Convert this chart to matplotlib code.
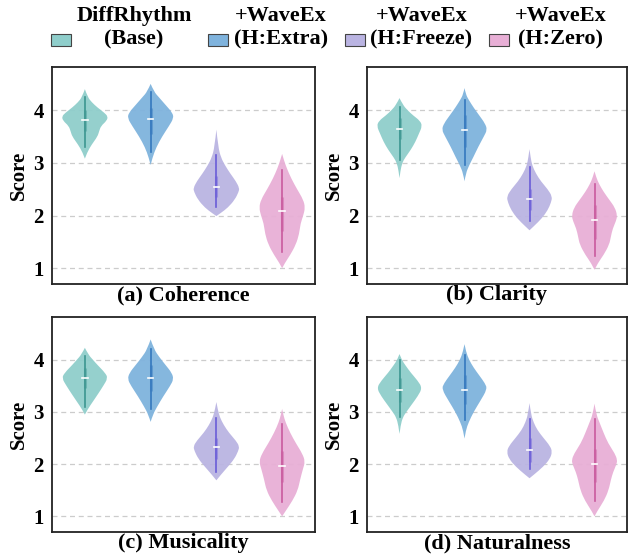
import numpy as np
import matplotlib
matplotlib.use("Agg")
import matplotlib.pyplot as plt
from matplotlib.path import Path
from matplotlib.patches import PathPatch, Patch, Rectangle
from matplotlib.legend_handler import HandlerPatch

plt.rcParams['font.family'] = ['Liberation Serif', 'DejaVu Serif']
plt.rcParams['font.weight'] = 'bold'

methods = ["DiffRhythm\n(Base)", "+WaveEx\n(H:Extra)", "+WaveEx\n(H:Freeze)", "+WaveEx\n(H:Zero)"]
panels = ["(a) Coherence", "(b) Clarity", "(c) Musicality", "(d) Naturalness"]

fill_colors = ["#8FCECB", "#7FB3DD", "#BAB4E2", "#E8AFD6"]
line_colors = ["#3C9690", "#3478BE", "#6A5CD8", "#C95A9E"]

# density profiles: score levels and relative density
coh_y = [
    [3.08, 3.2, 3.35, 3.5, 3.6, 3.7, 3.8, 3.88, 3.95, 4.05, 4.15, 4.25, 4.4],
    [2.96, 3.1, 3.3, 3.5, 3.7, 3.85, 3.95, 4.1, 4.25, 4.35, 4.5],
    [1.99, 2.05, 2.15, 2.3, 2.45, 2.52, 2.65, 2.8, 2.95, 3.1, 3.3, 3.63],
    [1.0, 1.1, 1.25, 1.45, 1.65, 1.85, 2.0, 2.15, 2.3, 2.5, 2.7, 2.9, 3.05, 3.17],
]
coh_d = [
    [0, 0.1, 0.3, 0.55, 0.62, 0.7, 0.95, 1.0, 0.85, 0.55, 0.3, 0.12, 0],
    [0, 0.08, 0.25, 0.5, 0.8, 1.0, 0.95, 0.65, 0.35, 0.15, 0],
    [0, 0.2, 0.5, 0.8, 0.97, 1.0, 0.85, 0.6, 0.38, 0.2, 0.08, 0],
    [0, 0.12, 0.35, 0.6, 0.74, 0.8, 0.92, 1.0, 0.92, 0.65, 0.4, 0.2, 0.08, 0],
]
cla_y = [
    [2.71, 2.85, 3.0, 3.1, 3.25, 3.4, 3.55, 3.7, 3.8, 3.9, 4.0, 4.1, 4.23],
    [2.65, 2.8, 2.95, 3.1, 3.3, 3.5, 3.63, 3.75, 3.9, 4.05, 4.2, 4.3, 4.42],
    [1.72, 1.8, 1.95, 2.1, 2.25, 2.36, 2.5, 2.65, 2.8, 2.95, 3.1, 3.26],
    [0.97, 1.1, 1.25, 1.45, 1.6, 1.75, 1.9, 2.0, 2.15, 2.3, 2.45, 2.6, 2.72, 2.84],
]
cla_d = [
    [0, 0.04, 0.12, 0.25, 0.5, 0.7, 0.85, 1.0, 0.9, 0.6, 0.35, 0.15, 0],
    [0, 0.06, 0.2, 0.38, 0.6, 0.85, 1.0, 0.9, 0.65, 0.4, 0.18, 0.06, 0],
    [0, 0.2, 0.55, 0.8, 0.95, 1.0, 0.8, 0.5, 0.28, 0.12, 0.05, 0],
    [0, 0.15, 0.4, 0.65, 0.72, 0.8, 0.95, 1.0, 0.9, 0.65, 0.4, 0.2, 0.08, 0],
]
mus_y = [
    [2.95, 3.05, 3.2, 3.35, 3.5, 3.65, 3.75, 3.9, 4.0, 4.1, 4.23],
    [2.81, 2.95, 3.1, 3.3, 3.5, 3.63, 3.75, 3.9, 4.05, 4.2, 4.39],
    [1.69, 1.8, 1.95, 2.1, 2.25, 2.34, 2.45, 2.6, 2.75, 2.9, 3.05, 3.19],
    [1.0, 1.1, 1.3, 1.5, 1.7, 1.9, 2.05, 2.2, 2.4, 2.6, 2.8, 2.95, 3.06],
]
mus_d = [
    [0, 0.12, 0.35, 0.58, 0.8, 1.0, 0.88, 0.55, 0.35, 0.15, 0],
    [0, 0.1, 0.28, 0.55, 0.85, 1.0, 0.92, 0.65, 0.38, 0.15, 0],
    [0, 0.2, 0.5, 0.78, 0.95, 1.0, 0.85, 0.55, 0.32, 0.15, 0.06, 0],
    [0, 0.15, 0.45, 0.68, 0.78, 0.9, 1.0, 0.88, 0.6, 0.35, 0.15, 0.05, 0],
]
nat_y = [
    [2.58, 2.75, 2.9, 3.0, 3.15, 3.3, 3.46, 3.6, 3.75, 3.9, 4.0, 4.11],
    [2.49, 2.65, 2.8, 3.0, 3.2, 3.44, 3.55, 3.7, 3.85, 4.0, 4.15, 4.30],
    [1.73, 1.8, 1.95, 2.1, 2.24, 2.35, 2.5, 2.65, 2.8, 2.95, 3.17],
    [1.0, 1.1, 1.3, 1.5, 1.7, 1.85, 2.0, 2.08, 2.2, 2.4, 2.6, 2.8, 2.95, 3.16],
]
nat_d = [
    [0, 0.05, 0.15, 0.3, 0.55, 0.8, 1.0, 0.8, 0.5, 0.25, 0.1, 0],
    [0, 0.06, 0.18, 0.4, 0.68, 1.0, 0.9, 0.65, 0.4, 0.2, 0.07, 0],
    [0, 0.2, 0.6, 0.9, 1.0, 0.9, 0.62, 0.35, 0.18, 0.07, 0],
    [0, 0.12, 0.42, 0.62, 0.72, 0.82, 0.97, 1.0, 0.9, 0.6, 0.4, 0.22, 0.08, 0],
]

# whisker range, box range and median per method
coh_whisk = [(3.3, 4.25), (3.2, 4.35), (2.17, 3.15), (1.3, 2.87)]
coh_box = [(3.6, 4.0), (3.55, 4.05), (2.35, 2.75), (1.7, 2.35)]
coh_med = [3.82, 3.84, 2.55, 2.08]
cla_whisk = [(3.06, 4.07), (2.95, 4.2), (1.9, 2.92), (1.23, 2.6)]
cla_box = [(3.45, 3.85), (3.3, 3.9), (2.1, 2.5), (1.55, 2.2)]
cla_med = [3.65, 3.63, 2.32, 1.91]
mus_whisk = [(3.1, 4.08), (3.05, 4.2), (1.85, 2.88), (1.28, 2.77)]
mus_box = [(3.45, 3.85), (3.4, 3.9), (2.1, 2.5), (1.65, 2.25)]
mus_med = [3.65, 3.65, 2.32, 1.96]
nat_whisk = [(2.9, 4.0), (2.85, 4.1), (1.9, 2.87), (1.3, 2.87)]
nat_box = [(3.2, 3.65), (3.15, 3.7), (2.05, 2.5), (1.65, 2.3)]
nat_med = [3.43, 3.43, 2.28, 2.0]

all_y = [coh_y, cla_y, mus_y, nat_y]
all_d = [coh_d, cla_d, mus_d, nat_d]
all_whisk = [coh_whisk, cla_whisk, mus_whisk, nat_whisk]
all_box = [coh_box, cla_box, mus_box, nat_box]
all_med = [coh_med, cla_med, mus_med, nat_med]


def smooth_side(pts):
    # quadratic bezier through midpoints, ends stay on the tips
    verts = [pts[0]]
    codes = []
    for i in range(1, len(pts) - 1):
        end = pts[i + 1] if i == len(pts) - 2 else ((pts[i][0] + pts[i + 1][0]) / 2, (pts[i][1] + pts[i + 1][1]) / 2)
        verts += [pts[i], end]
        codes += [Path.CURVE3, Path.CURVE3]
    return verts, codes


def draw_violin(ax, pos, ys, ds, color, half=0.35):
    right = [(pos + d * half, y) for y, d in zip(ys, ds)]
    left = [(pos - d * half, y) for y, d in zip(ys[::-1], ds[::-1])]
    v1, c1 = smooth_side(right)
    v2, c2 = smooth_side(left)
    verts = v1 + v2[1:]
    codes = [Path.MOVETO] + c1 + c2
    ax.add_patch(PathPatch(Path(verts, codes), facecolor=color, edgecolor='none', alpha=0.95, zorder=2))


def low_box(legend, orig_handle, xdescent, ydescent, width, height, fontsize):
    # put the legend box next to the second text line
    return Rectangle((-xdescent, -ydescent - 0.55 * fontsize), width, height)


W, H = 628, 557
fig = plt.figure(figsize=(W / 100, H / 100), dpi=100)
rects = [
    [52 / W, 1 - 284 / H, 263 / W, 217 / H],
    [367 / W, 1 - 284 / H, 260 / W, 217 / H],
    [52 / W, 1 - 532 / H, 263 / W, 215 / H],
    [367 / W, 1 - 532 / H, 260 / W, 215 / H],
]

for k, rect in enumerate(rects):
    ax = fig.add_axes(rect)
    for i in range(4):
        draw_violin(ax, i, all_y[k][i], all_d[k][i], fill_colors[i])
        lo, hi = all_whisk[k][i]
        ax.plot([i, i], [lo, hi], color=line_colors[i], lw=1.2, zorder=3)
        b0, b1 = all_box[k][i]
        ax.plot([i, i], [b0, b1], color=line_colors[i], lw=2.2, alpha=0.45, zorder=3, solid_capstyle='butt')
        ax.plot([i - 0.04, i + 0.04], [all_med[k][i]] * 2, color='white', lw=1.2, zorder=4)
    ax.set_xlim(-0.5, 3.5)
    ax.set_ylim(0.7, 4.82)
    ax.set_xticks([])
    ax.set_yticks([1, 2, 3, 4])
    ax.tick_params(axis='y', length=0, labelsize=15, pad=6)
    for lab in ax.get_yticklabels():
        lab.set_fontweight('bold')
    ax.yaxis.grid(True, linestyle=(0, (4, 3)), color='#cccccc', lw=0.9, zorder=0)
    ax.set_axisbelow(True)
    for sp in ax.spines.values():
        sp.set_linewidth(1.3)
        sp.set_color('#222222')
    ax.set_ylabel("Score", fontsize=15, fontweight='bold', labelpad=3)
    ax.set_xlabel(panels[k], fontsize=16, fontweight='bold', labelpad=1)

handles = [Patch(facecolor=c, edgecolor='#444444', lw=0.8) for c in fill_colors]
leg = fig.legend(handles, methods, loc='center', bbox_to_anchor=(0.523, 0.95), ncol=4, frameon=False,
                 handlelength=0.9, handleheight=0.45, handletextpad=0.25, columnspacing=0.75,
                 prop={'weight': 'bold', 'size': 16},
                 handler_map={Patch: HandlerPatch(patch_func=low_box)})
for t in leg.get_texts():
    t.set_multialignment('center')

fig.savefig("out.png", dpi=100)
